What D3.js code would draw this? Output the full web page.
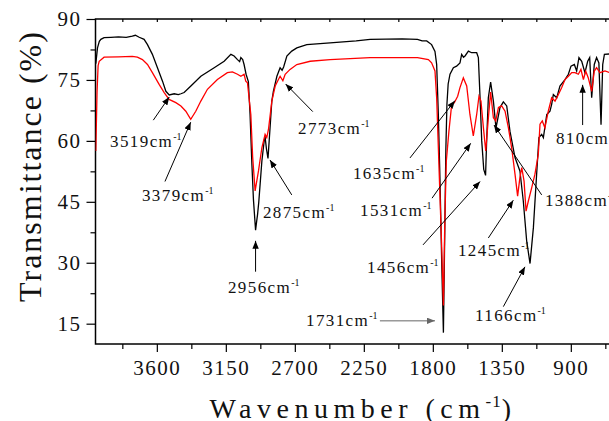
<!DOCTYPE html>
<html>
<head>
<meta charset="utf-8">
<script src="https://cdn.jsdelivr.net/npm/d3@7"></script>
<style>
body { margin: 0; background: #fff; }
text { font-family: "Liberation Serif", "Times New Roman", serif; fill: #111; }
</style>
</head>
<body>
<svg id="chart" width="609" height="421"></svg>
<script>
// black spectrum
var blackWn = [3998,3987,3975,3965,3944,3900,3850,3800,3760,3740,3715,3683,3661,3629,3596,3563,3541,3519,3487,3460,3443,3422,3378,3313,3226,3161,3117,3096,3074,3060,3052,3040,3031,3018,3003,2992,2980,2970,2956,2949,2943,2935,2915,2900,2894,2885,2875,2862,2850,2840,2817,2796,2783,2773,2752,2720,2687,2622,2470,2300,2209,2000,1900,1870,1840,1808,1786,1775,1764,1753,1742,1731,1722,1715,1708,1700,1688,1666,1645,1623,1612,1600,1590,1568,1547,1514,1503,1492,1481,1468,1456,1449,1438,1423,1405,1388,1362,1340,1318,1297,1264,1232,1210,1188,1166,1144,1123,1108,1090,1079,1057,1036,1025,1014,992,971,938,916,899,877,862,847,829,808,790,777,764,747,732,717,703,692,681,645,600];
var blackT  = [79,82.9,84.5,85.0,85.4,85.5,85.6,85.5,85.8,86.0,85.5,85.0,83.7,81.3,78.0,74.7,72.2,71.3,71.6,71.4,71.6,71.9,73.5,75.9,78.0,79.6,81.3,80.9,80.0,79.5,80.5,80.0,78.8,76.4,74.6,66.5,54.2,45.6,38.0,40.2,41.9,45,55,60,61,58,55.7,63,69.8,72.2,75.9,78.0,77.4,78.2,80.9,82.1,82.9,83.7,84.1,84.6,85.0,85.1,85.0,84.6,84.6,83.7,82.0,78.8,66.5,50,30,12.8,38,58,69,74,76.4,78,78.4,79.2,81.3,80.6,80.9,82.1,81.7,81.7,80.5,70.6,60,53,51.5,60,70.6,74.5,69.8,63.2,68.2,69.6,68.6,62.4,55.9,52.6,45.2,35.4,29.8,38.7,51.8,60.8,61.6,60.8,66.5,67.3,69,71.4,70.6,73.5,75.1,76.4,78.4,78.8,77.2,80.5,79.6,76.8,79.6,80.5,70.6,78.8,80.5,79.2,64,78.8,81.3,81.4,81.5];

// red spectrum
var redWn = [3998,3990,3983,3976,3944,3850,3760,3727,3694,3661,3629,3585,3552,3520,3476,3443,3411,3379,3346,3313,3270,3205,3140,3107,3074,3052,3031,3020,3009,2987,2975,2959,2937,2915,2894,2883,2872,2850,2828,2807,2796,2778,2763,2731,2687,2600,2470,2209,1900,1829,1808,1786,1775,1764,1742,1731,1722,1712,1695,1677,1660,1638,1623,1601,1579,1558,1536,1514,1499,1486,1470,1455,1438,1423,1405,1390,1372,1351,1329,1307,1286,1264,1247,1232,1220,1205,1192,1177,1155,1134,1112,1101,1086,1069,1047,1025,1003,981,960,938,916,894,873,851,834,818,803,786,764,747,732,710,677,645,600];
var redT  = [57.5,72,78.5,79.6,80.6,80.7,80.8,80.6,80.0,78.8,76.8,73.9,71.9,70.2,69.4,68.6,67.3,65.3,67.3,69.8,72.7,75.1,76.8,77.0,76.4,75.9,76.4,74.7,74.3,66.5,56,47.7,52.6,58.3,61.6,60.8,62.8,69.8,73.5,75.1,75.9,74.8,76.4,77.6,78.8,79.6,80.0,80.5,80.5,80.0,79.2,77.2,70.6,58.3,33.7,19.5,40,55,62.4,69,69.4,71,73.1,75.5,73.5,66.5,61.2,66.5,71,69.8,63.2,57.5,65.5,72,65.7,64.9,68.2,68.6,67.3,63.2,58.3,51.8,46.4,51,53.4,50.1,42.7,45.2,48.5,51.8,56.7,64.1,64.9,63.2,67.3,70.6,69.8,71.4,73.1,75.1,75.9,76.8,76.8,76.4,77.6,75.1,77.2,75.5,72.2,77.2,78,76.8,77.2,76.8,76.8];

// tick values
var xMajor = [3600,3150,2700,2250,1800,1350,900,450];
var xMinor = [3825,3375,2925,2475,2025,1575,1125,675];
var yMajor = [15,30,45,60,75,90];
var yMinor = [22.5,37.5,52.5,67.5,82.5];

// peak labels: text, label anchor, arrow tail, arrow tip (wavenumber, %)
var peakNames = ["3519","3379","2773","2875","2956","1731","1635","1531","1456","1245","1166","1388","810"];
var peakTextWn = [3905,3697,2679,2908,3136,2627,2321,2275,2229,1636,1525,1069,997];
var peakTextT  = [58.4,45.2,61.7,41.0,22.6,14.4,50.6,41.5,27.5,31.7,15.7,44.0,59.2];
var peakTailWn = [3623,3547,2583,2720,2956,2145,1949,1805,1864,1438,1340,1090,823];
var peakTailT  = [65.1,50.0,67.2,46.7,27.8,15.7,55.8,45.9,34.4,36.1,19.2,46.7,63.9];
var peakTipWn  = [3519,3379,2760,2862,2956,1786,1656,1553,1492,1275,1199,1401,823];
var peakTipT   = [70.8,64.6,74.0,55.3,35.4,15.7,69.9,59.4,50.0,45.4,29.0,63.9,73.8];

var svg = d3.select('#chart');
var padLeft = 95.5, padTop = 19, padBottom = 344;

var xScale = d3.scaleLinear().domain([4000, 400]).range([padLeft, padLeft + 3600 * 0.15333]);
var yScale = d3.scaleLinear().domain([10, 90]).range([padBottom, padTop]);

var defs = svg.append('defs');
defs.append('clipPath').attr('id', 'clip')
  .append('rect').attr('x', padLeft).attr('y', padTop)
  .attr('width', xScale(400) - padLeft).attr('height', padBottom - padTop);

['#000', '#666'].forEach(function(c, i) {
  defs.append('marker').attr('id', 'arr' + i)
    .attr('markerUnits', 'userSpaceOnUse')
    .attr('viewBox', '0 0 10 8').attr('refX', 10).attr('refY', 4)
    .attr('markerWidth', 8).attr('markerHeight', 6.5).attr('orient', 'auto')
    .append('path').attr('d', 'M0,0 L10,4 L0,8 z').attr('fill', c);
});

function drawAxis(axis, tr) {
  var g = svg.append('g').attr('transform', tr).call(axis);
  g.select('.domain').remove();
  g.selectAll('line').attr('stroke', '#000').attr('stroke-width', 1.2);
  g.selectAll('text')
    .style('font-family', '"Liberation Serif", serif')
    .style('font-size', '21px')
    .style('letter-spacing', '1.5px')
    .attr('fill', '#111');
  return g;
}

// x axis
drawAxis(d3.axisBottom(xScale).tickValues(xMajor).tickSize(8).tickPadding(8).tickFormat(d3.format('d')),
         'translate(0,' + padBottom + ')');
drawAxis(d3.axisBottom(xScale).tickValues(xMinor).tickSize(5).tickFormat(''),
         'translate(0,' + padBottom + ')');
// top inner ticks
drawAxis(d3.axisTop(xScale).tickValues(xMajor.concat(xMinor)).tickSize(-3).tickFormat(''),
         'translate(0,' + padTop + ')');
// y axis
drawAxis(d3.axisLeft(yScale).tickValues(yMajor).tickSize(9).tickPadding(5),
         'translate(' + padLeft + ',0)');
drawAxis(d3.axisLeft(yScale).tickValues(yMinor).tickSize(5).tickFormat(''),
         'translate(' + padLeft + ',0)');

// frame
svg.append('rect')
  .attr('x', padLeft).attr('y', padTop)
  .attr('width', xScale(400) - padLeft).attr('height', padBottom - padTop)
  .attr('fill', 'none').attr('stroke', '#000').attr('stroke-width', 1.5);

var line = d3.line()
  .x(function(d) { return xScale(d[0]); })
  .y(function(d) { return yScale(d[1]); });

var plot = svg.append('g').attr('clip-path', 'url(#clip)');
plot.append('path')
  .datum(d3.zip(blackWn, blackT))
  .attr('d', line).attr('fill', 'none').attr('stroke', '#000').attr('stroke-width', 1.3);
plot.append('path')
  .datum(d3.zip(redWn, redT))
  .attr('d', line).attr('fill', 'none').attr('stroke', '#ff0000').attr('stroke-width', 1.3);

// annotations
peakNames.forEach(function(name, i) {
  var grey = name === '1731';
  svg.append('line')
    .attr('x1', xScale(peakTailWn[i])).attr('y1', yScale(peakTailT[i]))
    .attr('x2', xScale(peakTipWn[i])).attr('y2', yScale(peakTipT[i]))
    .attr('stroke', grey ? '#666' : '#000').attr('stroke-width', 1)
    .attr('marker-end', 'url(#arr' + (grey ? 1 : 0) + ')');
  var t = svg.append('text')
    .attr('x', xScale(peakTextWn[i])).attr('y', yScale(peakTextT[i]))
    .style('font-size', '17px').style('letter-spacing', '1.4px');
  t.append('tspan').text(name + 'cm');
  t.append('tspan').attr('dy', -7).style('font-size', '10px').style('letter-spacing', '0px').text('-1');
});

// axis titles
svg.append('text')
  .attr('transform', 'translate(41,166) rotate(-90)')
  .attr('text-anchor', 'middle')
  .style('font-size', '32px').style('letter-spacing', '2px')
  .text('Transmittance (%)');

var xt = svg.append('text')
  .attr('x', 363).attr('y', 418)
  .attr('text-anchor', 'middle')
  .style('font-size', '28px').style('letter-spacing', '5.5px');
xt.append('tspan').text('Wavenumber (cm');
xt.append('tspan').attr('dy', -11).style('font-size', '17px').style('letter-spacing', '1px').text('-1');
xt.append('tspan').attr('dy', 11).text(')');
</script>
</body>
</html>
